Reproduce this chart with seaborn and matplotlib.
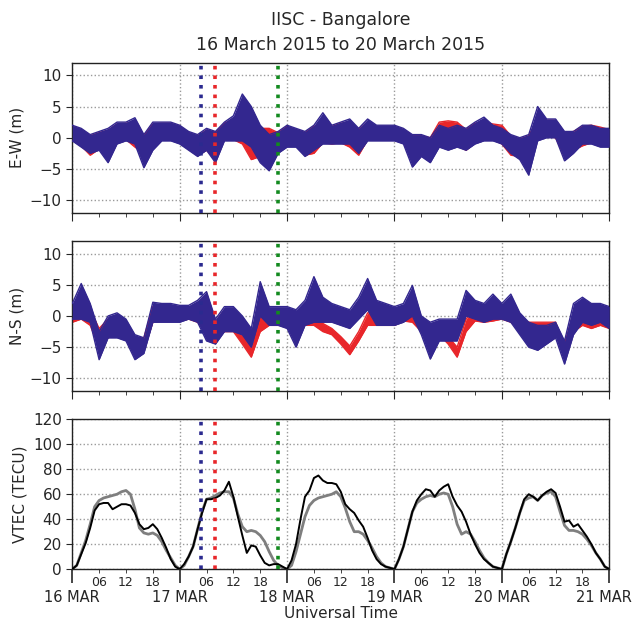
import numpy as np
import pandas as pd
import matplotlib
matplotlib.use("Agg")
import matplotlib.pyplot as plt
import matplotlib.dates as mdates
import matplotlib.ticker as mticker
import matplotlib.transforms as mtransforms
import seaborn as sns

# time axis: hours since 16 March 2015 00 UT
start = pd.Timestamp("2015-03-16")
hours_2h = np.arange(0, 121, 2)
hours_1h = np.arange(0, 121, 1)

# E-W displacement envelopes (m), every 2 h
ew_blue_lo = [-0.5, -1.5, -2.5, -2, -4, -1, -0.5, -1, -4.8, -2, -0.5, -0.5, -1, -2, -3, -2,
              -4, -0.5, -0.5, -0.5, -1.5, -4, -5.3, -2.5, -1.5, -1.5, -3, -2, -1, -1, -1, -1,
              -2.5, -0.5, -0.5, -0.5, -0.5, -1, -4.7, -3, -4, -1.5, -2, -1.5, -2, -1, -0.5,
              -0.5, -1, -2.5, -3.5, -6, -0.5, 0, 0, -3.7, -2.5, -1, -1, -1.5, -1.5]
ew_blue_hi = [2, 1.5, 0.5, 1, 1.5, 2.5, 2.5, 3.2, 0.5, 2.5, 2.5, 2.5, 2, 1, 0.5, 1.5,
              1, 2.5, 3.5, 7, 5, 2, 0.5, 1, 2, 1.5, 1, 2, 4, 2, 2.5, 3,
              1.5, 3, 2, 2, 2, 1.5, 0.5, 0.5, 0, 2, 1.5, 2, 1.5, 2.5, 3.3,
              2, 1.5, 0.5, 0, 0.5, 5, 3, 3, 1, 1, 2, 2, 1.5, 1.5]
ew_red_lo = [-0.3, -1.3, -2.8, -1.8, -3, -0.8, -0.3, -1.5, -2.5, -1.5, -0.3, -0.3, -0.8, -1.8, -2.8, -2,
             -3.5, -0.3, -0.3, -1, -3.5, -3, -3.5, -1, -1.3, -1.3, -2.8, -2.5, -0.8, -1, -0.8, -1.5,
             -2.8, -0.3, -0.3, -0.3, -0.3, -0.8, -3.5, -2.5, -3, -1, -1.5, -1.3, -2, -0.8, -0.3,
             -0.3, -1, -2.8, -3, -2.5, -0.3, 0.2, 0, -3, -2, -1.3, -0.8, -1.3, -1.3]
ew_red_hi = [1.8, 1.3, 0.3, 0.8, 1.2, 2.2, 2.3, 2.5, 0.3, 2.2, 2.3, 2.3, 1.8, 0.8, 0.3, 1.2,
             0.8, 2.3, 3, 3.5, 3, 1.5, 1.5, 0.8, 1.8, 1.3, 0.8, 1.8, 2.5, 1.8, 2.3, 2.5,
             1.3, 2.5, 1.8, 1.8, 1.8, 1.3, 0.3, 0.3, 0, 2.5, 2.7, 2.5, 1.3, 2.3, 2.5,
             2.2, 2, 0.3, -0.2, 0.3, 3, 2.8, 2.8, 0.8, 1, 1.8, 2, 1.7, 1.3]

# N-S displacement envelopes (m), every 2 h
ns_blue_lo = [-0.5, -0.5, -1, -7, -3.5, -3.5, -4, -7, -6, -1, -1, -1, -1, -0.5, -1, -4,
              -4.5, -2.5, -2.5, -3, -5, 0, -1.5, -1.5, -2, -5, -1.5, -1, -1, -1, -1.5, -2,
              -0.5, 1, -1.5, -1.5, -1.5, -1, 0, -3, -6.9, -4, -4, -4, 0, -0.5, -1,
              -0.5, -0.5, -1, -3, -5, -5.5, -4.5, -3.5, -7.7, -3, -1, -1.5, -1, -2]
ns_blue_hi = [2, 5.2, 2, -2.5, 0, 0.5, -0.5, -3, -3.5, 2.2, 2, 2, 1.7, 1.7, 2.5, 3.9,
              -0.5, 1.5, 1.5, 0, -2, 5.5, 1.5, 1.5, 1.5, 1, 2.5, 6.3, 3, 2, 1.5, 1,
              3, 6, 2.5, 2, 1.5, 2, 4.9, 0, -1, -0.5, -0.5, -0.5, 4.1, 2.5, 2,
              3.5, 2, 3.5, 0.5, -1, -1.5, -1.5, -1, -4, 2, 3, 2, 2, 1.5]
ns_red_lo = [-1, -0.5, -1.5, -5, -3.5, -3, -3.5, -6.5, -5.5, -1, -0.8, -0.8, -0.8, -0.5, -1, -2.5,
             -3.5, -2.5, -2.5, -4.5, -6.6, -2.5, -1.5, -1.5, -1.5, -2, -1.5, -1.5, -2.5, -3, -4.5, -6.2,
             -4, -1.5, -1.5, -1.5, -1.5, -0.8, -1, -2.5, -3.5, -3, -4.5, -6.6, -2.5, -0.8, -1,
             -0.8, -0.5, -1, -2, -2.5, -2.5, -2.5, -2.5, -6, -2.5, -1.5, -2, -1.5, -2]
ns_red_hi = [1, 1.5, 1, -2, -0.5, 0, -1, -3.5, -3.5, 1.5, 1.5, 1.5, 1.5, 1.5, 1.5, 1,
             -1, 1, 1, -3, -5, 1, 1, 1, 1, 0.5, 1, 1.5, -1.2, -2, -3.3, -4.8,
             -2.5, 0.5, 0.5, 0.5, 0.5, 1, 1.5, -0.5, -1.5, -1.5, -3.3, -5, -0.5, 1, 1,
             1.5, 1, 1, -0.5, -1, -1, -1, -1, -4.5, 0.5, 0.5, 0, 0.5, 0]

# VTEC (TECU), hourly
vtec_black = [0, 3, 12, 21, 33, 47, 52, 53, 53, 48, 50, 52, 52, 51, 45, 36, 32, 33, 36, 32, 25, 17, 8, 2,
              0, 4, 10, 18, 32, 45, 56, 56, 57, 59, 63, 70, 58, 42, 27, 13, 19, 18, 11, 5, 3, 4, 4, 2,
              0, 7, 20, 40, 58, 63, 73, 75, 71, 69, 69, 68, 62, 52, 48, 45, 39, 34, 25, 15, 8, 4, 2, 1,
              0, 8, 18, 32, 46, 55, 60, 64, 63, 58, 63, 66, 68, 58, 51, 46, 38, 28, 20, 13, 8, 5, 2, 1,
              0, 12, 22, 33, 45, 56, 60, 58, 55, 59, 62, 64, 61, 50, 38, 39, 34, 36, 31, 26, 20, 13, 8, 2,
              0]
vtec_gray = [0, 3, 13, 23, 36, 50, 55, 57, 58, 59, 60, 62, 63, 60, 48, 33, 29, 28, 29, 27, 22, 15, 9, 3,
             0, 3, 10, 18, 32, 46, 56, 57, 59, 61, 62, 62, 57, 44, 34, 30, 31, 30, 27, 22, 14, 7, 3, 1,
             0, 3, 14, 28, 42, 51, 55, 57, 58, 59, 60, 62, 58, 49, 38, 30, 30, 28, 23, 17, 10, 5, 2, 1,
             0, 8, 18, 32, 46, 53, 56, 58, 59, 58, 60, 61, 60, 50, 36, 28, 30, 28, 22, 15, 9, 5, 2, 1,
             0, 12, 22, 33, 45, 55, 57, 58, 55, 59, 61, 62, 58, 46, 35, 31, 31, 30, 28, 24, 19, 13, 8, 2,
             0]

# event markers (hours since start)
event_hours = [28.7, 31.9, 46.0]
event_colors = ["#2b2a8f", "#e8262a", "#138a1f"]

t2 = start + pd.to_timedelta(hours_2h, unit="h")
t1 = start + pd.to_timedelta(hours_1h, unit="h")

sns.set_style("ticks")
plt.rcParams["font.family"] = ["DejaVu Sans"]

fig, axs = plt.subplots(3, 1, figsize=(6.34, 6.22), dpi=100, sharex=True)
fig.subplots_adjust(left=0.114, right=0.961, top=0.899, bottom=0.085, hspace=0.19)

red = "#e8262a"
blue = "#33278f"


def band(ax, lo, hi, color, z):
    ax.fill_between(t2, lo, hi, color=color, linewidth=0, zorder=z)
    sns.lineplot(x=t2, y=lo, ax=ax, color=color, linewidth=1.0, zorder=z)
    sns.lineplot(x=t2, y=hi, ax=ax, color=color, linewidth=1.0, zorder=z)


band(axs[0], ew_red_lo, ew_red_hi, red, 2)
band(axs[0], ew_blue_lo, ew_blue_hi, blue, 3)
band(axs[1], ns_red_lo, ns_red_hi, red, 2)
band(axs[1], ns_blue_lo, ns_blue_hi, blue, 3)

sns.lineplot(x=t1, y=vtec_gray, ax=axs[2], color="#7f7f7f", linewidth=2, zorder=2)
sns.lineplot(x=t1, y=vtec_black, ax=axs[2], color="black", linewidth=1.4, zorder=3)

for ax in axs:
    for h, c in zip(event_hours, event_colors):
        ax.axvline(start + pd.Timedelta(hours=h), color=c, linestyle=":", linewidth=2.6, zorder=5)
    ax.grid(True, which="major", color="#9a9a9a", linestyle=":", linewidth=1)
    ax.set_axisbelow(True)
    for s in ax.spines.values():
        s.set_color("#222222")
        s.set_linewidth(1)

for ax, lab in zip(axs[:2], ["E-W (m)", "N-S (m)"]):
    ax.set_ylim(-12, 12)
    ax.set_yticks([-10, -5, 0, 5, 10])
    ax.set_ylabel(lab, fontsize=11)
    ax.tick_params(axis="x", which="both", labelbottom=False)
    ax.tick_params(axis="x", which="major", length=6)
    ax.tick_params(axis="x", which="minor", length=3)

axs[2].set_ylim(0, 120)
axs[2].set_yticks(range(0, 121, 20))
axs[2].set_ylabel("VTEC (TECU)", fontsize=11)
axs[2].set_xlabel("Universal Time", fontsize=11, labelpad=1)

axs[2].set_xlim(start, start + pd.Timedelta(hours=120))
axs[2].xaxis.set_major_locator(mdates.DayLocator())
axs[2].xaxis.set_major_formatter(
    mticker.FuncFormatter(lambda x, pos: mdates.num2date(x).strftime("%d %b").upper()))
axs[2].xaxis.set_minor_locator(mdates.HourLocator(byhour=[6, 12, 18]))
axs[2].xaxis.set_minor_formatter(mdates.DateFormatter("%H"))
axs[2].tick_params(axis="x", which="major", length=10, width=1.2, pad=5, labelsize=10.5)
axs[2].tick_params(axis="x", which="minor", length=3, pad=2, labelsize=9)

for ax in axs:
    ax.tick_params(axis="y", labelsize=11, length=4)

axs[0].set_title("IISC - Bangalore\n16 March 2015 to 20 March 2015", fontsize=12.5, pad=9,
                 linespacing=1.5)

# nudge the last day label so it stays inside the canvas
fig.canvas.draw()
last = axs[2].xaxis.get_majorticklabels()[-1]
last.set_transform(last.get_transform()
                   + mtransforms.ScaledTranslation(-5 / 100, 0, fig.dpi_scale_trans))

fig.savefig("out.png", dpi=100)
